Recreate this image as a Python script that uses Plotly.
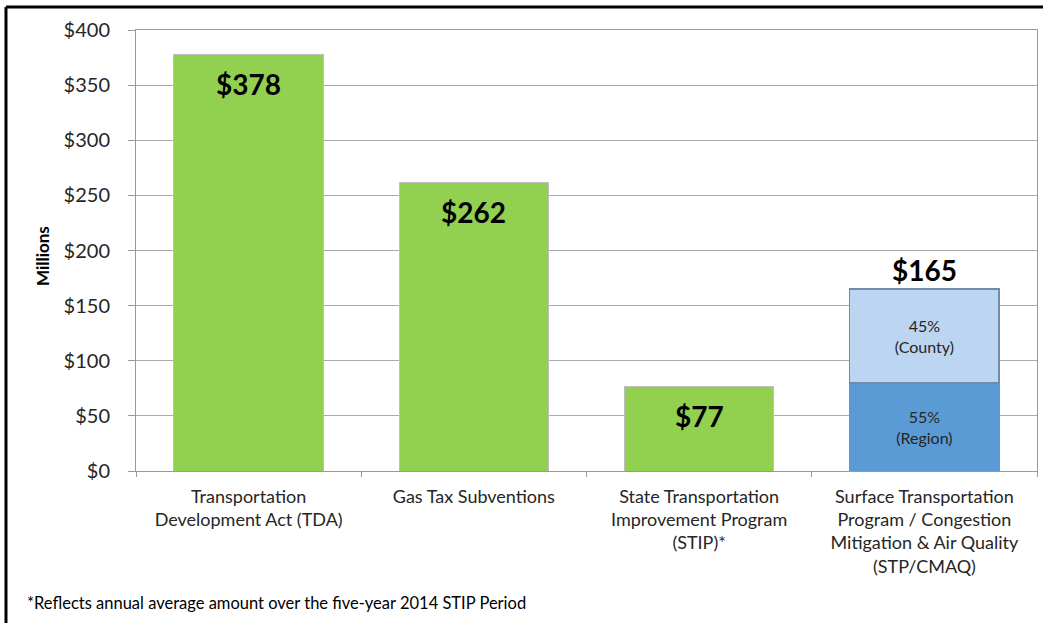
import plotly.graph_objects as go

categories = [
    "Transportation<br>Development Act (TDA)",
    "Gas Tax Subventions",
    "State Transportation<br>Improvement Program<br>(STIP)*",
    "Surface Transportation<br>Program / Congestion<br>Mitigation & Air Quality<br>(STP/CMAQ)",
]
single_values = [378, 262, 77]          # green bars (first three categories)
stp_region = 80                          # 55% (Region) segment
stp_county = 85                          # 45% (County) segment
stp_total = 165
bar_labels = ["$378", "$262", "$77"]
region_label = "55%<br>(Region)"
county_label = "45%<br>(County)"
total_label = "$165"
y_ticks = [0, 50, 100, 150, 200, 250, 300, 350, 400]
y_tick_labels = ["$0", "$50", "$100", "$150", "$200", "$250", "$300", "$350", "$400"]
footnote = "*Reflects annual average amount over the five-year 2014 STIP Period"
y_title = "Millions"

FONT = "Lato, 'Open Sans', sans-serif"
GRID = "#ABABAB"

fig = go.Figure()
fig.add_trace(go.Bar(
    x=categories[:3], y=single_values,
    marker=dict(color="#92D050", line=dict(color="#BFBFBF", width=1)),
    hoverinfo="skip", showlegend=False,
))
fig.add_trace(go.Bar(
    x=[categories[3]], y=[stp_region],
    marker=dict(color="#5B9BD5", line=dict(color="#5B9BD5", width=1)),
    text=[region_label], textposition="inside", insidetextanchor="middle",
    textfont=dict(family=FONT, size=16, color="#262626"),
    hoverinfo="skip", showlegend=False,
))
fig.add_trace(go.Bar(
    x=[categories[3]], y=[stp_county],
    marker=dict(color="#BCD5F1", line=dict(color="#6C8DB0", width=1.5)),
    text=[county_label], textposition="inside", insidetextanchor="middle",
    textfont=dict(family=FONT, size=16, color="#262626"),
    hoverinfo="skip", showlegend=False,
))

annotations = []
for cat, val, lab in zip(categories[:3], single_values, bar_labels):
    annotations.append(dict(
        x=cat, y=val, xref="x", yref="y", text="<b>%s</b>" % lab,
        showarrow=False, yanchor="top", yshift=-11,
        font=dict(family=FONT, size=28, color="#000000"),
    ))
annotations.append(dict(
    x=categories[3], y=stp_total, xref="x", yref="y", text="<b>%s</b>" % total_label,
    showarrow=False, yanchor="bottom", yshift=0,
    font=dict(family=FONT, size=28, color="#000000"),
))
annotations.append(dict(
    x=-0.1043, y=0.4875, xref="paper", yref="paper", text="<b>%s</b>" % y_title,
    showarrow=False, textangle=-90, xanchor="center", yanchor="middle",
    font=dict(family=FONT, size=17, color="#000000"),
))
annotations.append(dict(
    x=-0.1232, y=-0.299, xref="paper", yref="paper", text=footnote,
    showarrow=False, xanchor="left", yanchor="middle",
    font=dict(family=FONT, size=16.5, color="#000000"),
))

shapes = [
    dict(type="line", xref="paper", yref="paper", x0=-0.1443, x1=1.01, y0=1.0522, y1=1.0522,
         line=dict(color="#000000", width=3)),
    dict(type="line", xref="paper", yref="paper", x0=-0.1443, x1=-0.1443, y0=1.0522, y1=-0.36,
         line=dict(color="#000000", width=3)),
]

fig.update_layout(
    width=1043, height=623,
    margin=dict(l=136, r=6, t=30, b=152, autoexpand=False),
    paper_bgcolor="white", plot_bgcolor="white",
    barmode="stack", bargap=0.337,
    font=dict(family=FONT, color="#262626"),
    annotations=annotations, shapes=shapes,
    showlegend=False,
)
fig.update_xaxes(
    type="category", tickson="boundaries", ticks="outside", ticklen=5,
    tickcolor="#999999", showline=True, linecolor="#999999", linewidth=1,
    mirror=True, showgrid=False, automargin=False,
    tickfont=dict(family=FONT, size=18, color="#262626"),
    ticklabelstandoff=9,
    range=[-0.5, 3.5],
)
fig.update_yaxes(
    range=[0, 400], tickmode="array", tickvals=y_ticks, ticktext=y_tick_labels,
    ticks="outside", ticklen=7, tickcolor="#999999",
    showline=True, linecolor="#999999", linewidth=1, mirror=True,
    showgrid=True, gridcolor=GRID, gridwidth=1, zeroline=False, automargin=False,
    tickfont=dict(family=FONT, size=20, color="#262626"),
    ticklabelstandoff=14,
)

fig.write_html(
    "out.html",
    config={"displayModeBar": False},
    post_script="document.body.style.margin='0';document.body.style.overflow='hidden';",
)
